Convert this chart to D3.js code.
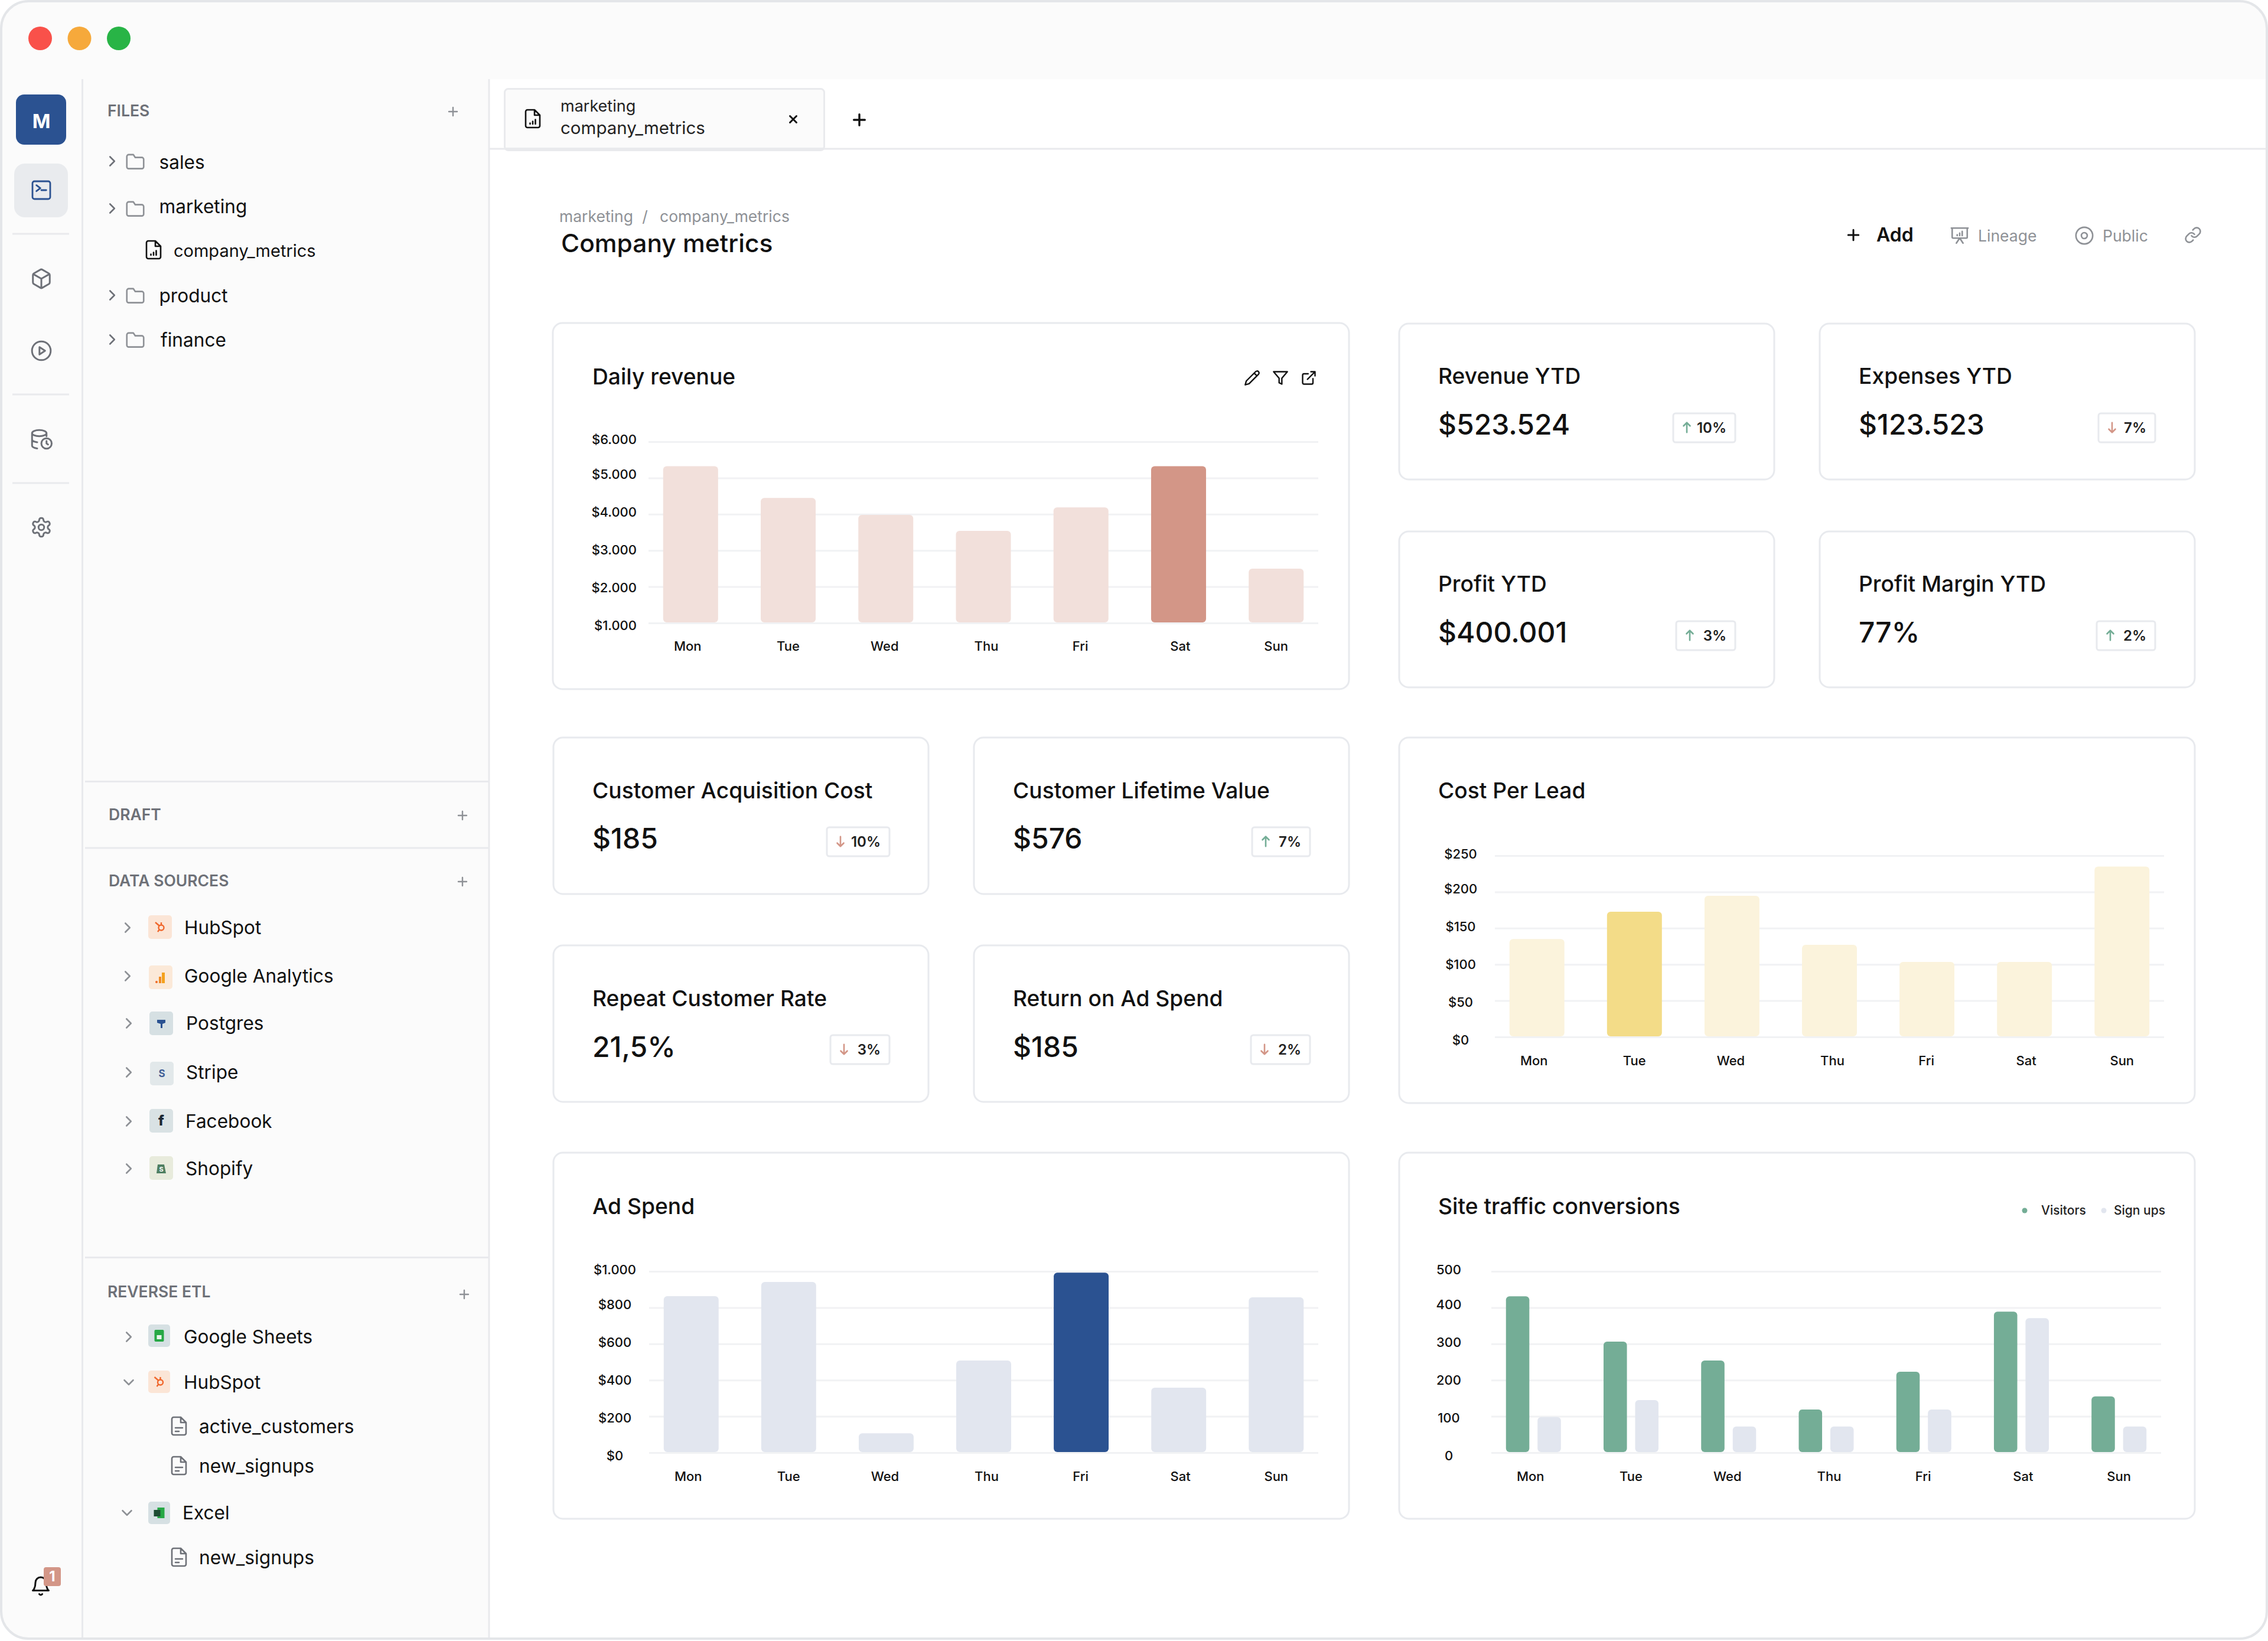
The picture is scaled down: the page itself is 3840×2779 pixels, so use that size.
<!DOCTYPE html>
<html>
<head>
<meta charset="utf-8">
<script src="https://cdn.jsdelivr.net/npm/d3@7"></script>
<style>
  html, body { margin: 0; padding: 0; background: #fff; }
  svg { display: block; }
  text { font-family: Inter, "Noto Sans", sans-serif; }
</style>
</head>
<body>
<script>
// chart data
var days = ["Mon", "Tue", "Wed", "Thu", "Fri", "Sat", "Sun"];

var dailyRevenue = [5325, 4450, 3980, 3540, 4190, 5325, 2500];
var dailyRevenueTicks = [1000, 2000, 3000, 4000, 5000, 6000];

var costPerLead = [135, 172.6, 194.6, 127, 103.4, 103.4, 235];
var costPerLeadTicks = [0, 50, 100, 150, 200, 250];

var adSpend = [863, 941, 107, 508, 993, 358, 857];
var adSpendTicks = [0, 200, 400, 600, 800, 1000];

var visitors = [431, 306, 254, 119, 223, 389, 155];
var signUps = [98, 145, 72, 72, 119, 371, 72];
var trafficTicks = [0, 100, 200, 300, 400, 500];
var trafficSeries = ["Visitors", "Sign ups"];

var statTitles = ["Revenue YTD", "Expenses YTD", "Profit YTD", "Profit Margin YTD",
  "Customer Acquisition Cost", "Customer Lifetime Value", "Repeat Customer Rate", "Return on Ad Spend"];
var statValues = ["$523.524", "$123.523", "$400.001", "77%", "$185", "$576", "21,5%", "$185"];
var statChanges = ["10%", "7%", "3%", "2%", "10%", "7%", "3%", "2%"];
var statDirections = ["up", "down", "up", "up", "down", "up", "down", "down"];

var fileNames = ["sales", "marketing", "company_metrics", "product", "finance"];
var sourceNames = ["HubSpot", "Google Analytics", "Postgres", "Stripe", "Facebook", "Shopify"];
var etlNames = ["Google Sheets", "HubSpot", "active_customers", "new_signups", "Excel", "new_signups"];

var W = 3840, H = 2779;
var dotted = d3.formatLocale({decimal: ",", thousands: ".", grouping: [3], currency: ["$", ""]});
var moneyFormat = dotted.format("$,");
// the day labels in the picture are not quite centred under their bars
var dayNudge = [-5, 0, -2, 5, -1, 3, 0];

var P = {
  chevronR: "M9 6l6 6-6 6", chevronD: "M6 9l6 6 6-6",
  folder: "M3 7a2 2 0 0 1 2-2h5l2 3h7a2 2 0 0 1 2 2v8a2 2 0 0 1-2 2H5a2 2 0 0 1-2-2z",
  fileChart: "M14 2H6a2 2 0 0 0-2 2v16a2 2 0 0 0 2 2h12a2 2 0 0 0 2-2V8z M14 2v6h6 M9 18v-1 M12 18v-3 M15 18v-5",
  fileText: "M14 2H6a2 2 0 0 0-2 2v16a2 2 0 0 0 2 2h12a2 2 0 0 0 2-2V8z M14 2v6h6 M8 14h8 M8 18h4",
  cube: "M21 8a2 2 0 0 0-1-1.73l-7-4a2 2 0 0 0-2 0l-7 4A2 2 0 0 0 3 8v8a2 2 0 0 0 1 1.73l7 4a2 2 0 0 0 2 0l7-4A2 2 0 0 0 21 16Z M3.3 7 12 12l8.7-5 M12 22V12",
  play: "M22 12a10 10 0 1 1-20 0 10 10 0 0 1 20 0z M10 8l6 4-6 4z",
  terminal: "M5 3h14a2 2 0 0 1 2 2v14a2 2 0 0 1-2 2H5a2 2 0 0 1-2-2V5a2 2 0 0 1 2-2z M7 7l4 3-4 3 M12 12h5",
  gear: "M12.22 2h-.44a2 2 0 0 0-2 2v.18a2 2 0 0 1-1 1.73l-.43.25a2 2 0 0 1-2 0l-.15-.08a2 2 0 0 0-2.73.73l-.22.38a2 2 0 0 0 .73 2.73l.15.1a2 2 0 0 1 1 1.72v.51a2 2 0 0 1-1 1.74l-.15.09a2 2 0 0 0-.73 2.73l.22.38a2 2 0 0 0 2.73.73l.15-.08a2 2 0 0 1 2 0l.43.25a2 2 0 0 1 1 1.73V20a2 2 0 0 0 2 2h.44a2 2 0 0 0 2-2v-.18a2 2 0 0 1 1-1.73l.43-.25a2 2 0 0 1 2 0l.15.08a2 2 0 0 0 2.73-.73l.22-.39a2 2 0 0 0-.73-2.73l-.15-.08a2 2 0 0 1-1-1.74v-.5a2 2 0 0 1 1-1.74l.15-.09a2 2 0 0 0 .73-2.73l-.22-.38a2 2 0 0 0-2.73-.73l-.15.08a2 2 0 0 1-2 0l-.43-.25a2 2 0 0 1-1-1.73V4a2 2 0 0 0-2-2z M15 12a3 3 0 1 1-6 0 3 3 0 0 1 6 0z",
  database: "M3 6c0-1.7 3-3 7-3s7 1.3 7 3-3 3-7 3-7-1.3-7-3z M3 6v12c0 1.3 2 2.4 5 2.8 M17 6v3 M3 12c0 1.3 2 2.4 5 2.8 M22 16a5 5 0 1 1-10 0 5 5 0 0 1 10 0z M17 13.5V16l1.5 1",
  bell: "M6 8a6 6 0 0 1 12 0c0 7 3 9 3 9H3s3-2 3-9 M10.3 21a2 2 0 0 0 3.4 0",
  pencil: "M17 3a2.85 2.83 0 1 1 4 4L7.5 20.5 2 22l1.5-5.5Z M15 5l4 4",
  filter: "M22 3H2l8 9.46V19l4 2v-8.54z",
  external: "M18 13v6a2 2 0 0 1-2 2H5a2 2 0 0 1-2-2V8a2 2 0 0 1 2-2h6 M15 3h6v6 M10 14 21 3",
  plus: "M12 5v14 M5 12h14", x: "M18 6 6 18 M6 6l12 12",
  eye: "M22 12a10 10 0 0 1-20 0 10 10 0 0 1 20 0z M15.5 12a3.5 3.5 0 1 1-7 0 3.5 3.5 0 0 1 7 0z",
  board: "M2 3h20 M21 3v11a1 1 0 0 1-1 1H4a1 1 0 0 1-1-1V3 M8 21l4-6 4 6 M9 11v1 M12 9v3 M15 7v5",
  link: "M10 13a5 5 0 0 0 7.54.54l3-3a5 5 0 0 0-7.07-7.07l-1.72 1.71 M14 11a5 5 0 0 0-7.54-.54l-3 3a5 5 0 0 0 7.07 7.07l1.71-1.71",
  up: "M12 21V3 M6 9l6-6 6 6", down: "M12 3v18 M18 15l-6 6-6-6"
};

var svg = d3.select("body").append("svg").attr("width", W).attr("height", H);
svg.append("defs").append("clipPath").attr("id", "win")
  .append("rect").attr("x", 2).attr("y", 2).attr("width", W - 4).attr("height", H - 6).attr("rx", 46);
var page = svg.append("g").attr("clip-path", "url(#win)");

function label(sel, txt, x, y, size, color, weight, anchor) {
  return sel.append("text").attr("x", x).attr("y", y).attr("dy", "0.35em")
    .attr("font-size", size).attr("font-weight", weight || 400)
    .attr("fill", color || "#111").attr("text-anchor", anchor || "start").text(txt);
}

function icon(sel, d, cx, cy, size, color, width, fill) {
  var s = size / 24;
  sel.append("path").attr("d", d)
    .attr("transform", "translate(" + (cx - size / 2) + "," + (cy - size / 2) + ") scale(" + s + ")")
    .attr("fill", fill || "none").attr("stroke", color)
    .attr("stroke-width", width / s)
    .attr("stroke-linecap", "round").attr("stroke-linejoin", "round");
}

function hline(x1, x2, y, color, w) {
  page.append("line").attr("x1", x1).attr("x2", x2).attr("y1", y).attr("y2", y)
    .attr("stroke", color || "#E9EAED").attr("stroke-width", w || 3);
}
function vline(x, y1, y2) {
  page.append("line").attr("x1", x).attr("x2", x).attr("y1", y1).attr("y2", y2)
    .attr("stroke", "#E9EAED").attr("stroke-width", 3);
}

// ---- window chrome
page.append("rect").attr("width", W).attr("height", H).attr("fill", "#FBFBFB");
page.append("rect").attr("x", 828).attr("y", 134).attr("width", W - 828).attr("height", H - 134).attr("fill", "#fff");
vline(139.5, 134, H);
vline(828, 134, H);
page.selectAll("circle.light").data(["#F9514A", "#F6A93B", "#28B446"]).enter().append("circle")
  .attr("cx", function (d, i) { return 68 + i * 66.5; }).attr("cy", 65).attr("r", 20)
  .attr("fill", function (d) { return d; });

// ---- icon rail
page.append("rect").attr("x", 27).attr("y", 160).attr("width", 85).attr("height", 85).attr("rx", 14).attr("fill", "#2B5291");
label(page, "M", 70, 205, 33, "#fff", 700, "middle");
page.append("rect").attr("x", 24).attr("y", 277).attr("width", 91).attr("height", 91).attr("rx", 18).attr("fill", "#E9EBEE");
icon(page, P.terminal, 70, 322, 40, "#2B5291", 2.8);
hline(21, 117, 396);
icon(page, P.cube, 70, 472, 38, "#6E7178", 3);
icon(page, P.play, 70, 594, 38, "#6E7178", 3);
hline(21, 117, 668);
icon(page, P.database, 70, 744, 42, "#6E7178", 3);
hline(21, 117, 818);
icon(page, P.gear, 70, 893, 38, "#6E7178", 3);
icon(page, P.bell, 69, 2686, 36, "#111", 3);
page.append("rect").attr("x", 74).attr("y", 2654).attr("width", 29).attr("height", 32).attr("rx", 4).attr("fill", "#D39687");
label(page, "1", 88.5, 2670, 24, "#fff", 700, "middle");

// ---- side panel
function sectionHead(txt, x, y, plusX, plusY) {
  label(page, txt, x, y, 26.5, "#6E7178", 600);
  icon(page, P.plus, plusX, plusY, 24, "#8E9196", 2.4);
}
sectionHead("FILES", 182, 188, 767, 189);
sectionHead("DRAFT", 184, 1380, 783, 1381);
sectionHead("DATA SOURCES", 184, 1492, 783, 1493);
sectionHead("REVERSE ETL", 182, 2188, 786, 2192);
hline(144, 828, 1323.5);
hline(144, 828, 1436);
hline(144, 828, 2129.5);

var fileRows = [
  {chev: 273, text: 275, x: 269.5}, {chev: 353, text: 350, x: 269.5},
  null, {chev: 500, text: 501, x: 269.5}, {chev: 575, text: 576, x: 272}
];
fileNames.forEach(function (name, i) {
  var r = fileRows[i];
  if (!r) {
    icon(page, P.fileChart, 260, 423, 36, "#111", 2.6);
    label(page, name, 294, 425, 29);
    return;
  }
  icon(page, P.chevronR, 190, r.chev, 30, "#6E7178", 2.6);
  icon(page, P.folder, 229, r.chev, 38, "#8E9196", 2.6);
  label(page, name, r.x, r.text, 31.6);
});

// little vendor logos, roughly drawn
function logo(kind, x, y, w, h, bg) {
  page.append("rect").attr("x", x).attr("y", y).attr("width", w).attr("height", h).attr("rx", 5).attr("fill", bg);
  var cx = x + w / 2, cy = y + h / 2;
  if (kind === "hubspot") {
    page.append("circle").attr("cx", cx + 2).attr("cy", cy + 1).attr("r", 4.5).attr("fill", "none").attr("stroke", "#F0672C").attr("stroke-width", 2.4);
    page.append("path").attr("d", "M" + (cx - 8) + " " + (cy - 8) + "L" + (cx - 1) + " " + (cy - 2) + "M" + (cx + 2) + " " + (cy - 8) + "V" + (cy - 3) + "M" + (cx - 1) + " " + (cy + 4) + "L" + (cx - 4) + " " + (cy + 8))
      .attr("stroke", "#F0672C").attr("stroke-width", 2.4).attr("fill", "none");
  } else if (kind === "ga") {
    page.append("rect").attr("x", cx + 2).attr("y", cy - 8).attr("width", 5).attr("height", 18).attr("fill", "#F4A11C");
    page.append("rect").attr("x", cx - 3).attr("y", cy - 1).attr("width", 4).attr("height", 11).attr("fill", "#F08A24");
    page.append("circle").attr("cx", cx - 7).attr("cy", cy + 8).attr("r", 2).attr("fill", "#EE6A24");
  } else if (kind === "pg") {
    page.append("path").attr("d", "M" + (cx - 7) + " " + (cy - 6) + "h14v5l-5 2v7h-3v-7l-6-2z").attr("fill", "#2B5291");
  } else if (kind === "stripe") {
    label(page, "S", cx, cy, 17, "#3F5E96", 700, "middle");
  } else if (kind === "fb") {
    label(page, "f", cx, cy, 24, "#1B2733", 800, "middle");
  } else if (kind === "shopify") {
    page.append("path").attr("d", "M" + (cx - 6) + " " + (cy - 6) + "h11l3 15h-16z").attr("fill", "#4F7F62");
    label(page, "S", cx, cy + 2, 11, "#fff", 700, "middle");
  } else if (kind === "sheets") {
    page.append("rect").attr("x", cx - 8).attr("y", cy - 10).attr("width", 16).attr("height", 20).attr("rx", 2).attr("fill", "#27A845");
    page.append("rect").attr("x", cx - 4).attr("y", cy - 1).attr("width", 8).attr("height", 7).attr("fill", "#E9F5EC");
  } else if (kind === "excel") {
    page.append("rect").attr("x", cx - 3).attr("y", cy - 9).attr("width", 12).attr("height", 18).attr("fill", "#27A845");
    page.append("rect").attr("x", cx - 9).attr("y", cy - 5).attr("width", 11).attr("height", 11).attr("fill", "#1E4C33");
  }
}

var sourceLogos = ["hubspot", "ga", "pg", "stripe", "fb", "shopify"];
var sourceFills = ["#FBE5D6", "#FBE9D8", "#D6E0E3", "#E2E8EA", "#D9E2E4", "#E8EBDC"];
var sourceRows = [
  {chevX: 216, y: 1571, iconX: 251, iconY: 1550, textX: 312}, {chevX: 216, y: 1653, iconX: 252, iconY: 1635, textX: 312},
  {chevX: 218, y: 1733, iconX: 253, iconY: 1713, textX: 315}, {chevX: 218, y: 1816, iconX: 254, iconY: 1798, textX: 315},
  {chevX: 218, y: 1899, iconX: 253, iconY: 1878, textX: 314}, {chevX: 218, y: 1979, iconX: 253, iconY: 1958, textX: 314}
];
sourceNames.forEach(function (name, i) {
  var r = sourceRows[i];
  icon(page, P.chevronR, r.chevX, r.y, 30, "#8E9196", 2.6);
  logo(sourceLogos[i], r.iconX, r.iconY, 40, 40, sourceFills[i]);
  label(page, name, r.textX, r.y, 31.6);
});

var etlRows = [
  {kind: "sheets", fill: "#D6E0E3", chev: P.chevronR, chevX: 218, y: 2264, iconY: 2243, textX: 311},
  {kind: "hubspot", fill: "#FBE5D6", chev: P.chevronD, chevX: 218, y: 2341, iconY: 2321, textX: 311},
  {file: true, y: 2416}, {file: true, y: 2483},
  {kind: "excel", fill: "#D6E0E3", chev: P.chevronD, chevX: 215, y: 2562, iconY: 2543, textX: 309},
  {file: true, y: 2638}
];
etlNames.forEach(function (name, i) {
  var r = etlRows[i];
  if (r.file) {
    icon(page, P.fileText, 303, r.y - 1, 36, "#6E7178", 2.6);
    label(page, name, 337, r.y, 31.8);
    return;
  }
  icon(page, r.chev, r.chevX, r.y, 30, "#8E9196", 2.6);
  logo(r.kind, 251, r.iconY, 37, 38, r.fill);
  label(page, name, r.textX, r.y, 31.6);
});

// ---- tab strip and page header
hline(828, W, 252);
page.append("rect").attr("x", 854.5).attr("y", 150.5).attr("width", 541).attr("height", 104).attr("rx", 6)
  .attr("fill", "#FBFBFB").attr("stroke", "#E9EAED").attr("stroke-width", 3);
page.append("rect").attr("x", 856).attr("y", 250).attr("width", 538).attr("height", 4).attr("fill", "#E9EAED");
icon(page, P.fileChart, 902, 201, 36, "#111", 2.6);
label(page, "marketing", 949, 180, 27, "#222");
label(page, "company_metrics", 949, 217, 29.5, "#222");
icon(page, P.x, 1343, 202, 22, "#111", 3);
icon(page, P.plus, 1455, 203, 32, "#111", 3.4);

label(page, "marketing", 947, 367, 26.5, "#8E9196");
label(page, "/", 1092, 367, 26.5, "#8E9196", 400, "middle");
label(page, "company_metrics", 1117, 367, 26.5, "#8E9196");
label(page, "Company metrics", 950, 412, 42.5, "#111", 500);

icon(page, P.plus, 3138, 398, 30, "#111", 3);
label(page, "Add", 3177, 398, 32, "#111", 600);
icon(page, P.board, 3318, 399, 34, "#8E9196", 2.6);
label(page, "Lineage", 3349, 400, 26.5, "#8E9196");
icon(page, P.eye, 3529, 399, 34, "#8E9196", 2.6);
label(page, "Public", 3560, 400, 26.5, "#8E9196");
icon(page, P.link, 3713, 398, 30, "#8E9196", 2.6);

// ---- cards
function card(x, y, w, h) {
  page.append("rect").attr("x", x).attr("y", y).attr("width", w).attr("height", h).attr("rx", 16)
    .attr("fill", "#fff").attr("stroke", "#E8EAEE").attr("stroke-width", 3);
}

function statCard(i, x, y, w, h, titleY, valueY, badgeX, badgeW, badgeY) {
  card(x, y, w, h);
  label(page, statTitles[i], x + 66, titleY, 37.2, "#111", 500);
  label(page, statValues[i], x + 66, valueY, 48, "#111", 500);
  page.append("rect").attr("x", badgeX).attr("y", badgeY).attr("width", badgeW).attr("height", 49).attr("rx", 4)
    .attr("fill", "#fff").attr("stroke", "#E8EAEE").attr("stroke-width", 3);
  var up = statDirections[i] === "up";
  icon(page, up ? P.up : P.down, badgeX + 23, badgeY + 24, 22, up ? "#74AD96" : "#D39687", 2.6);
  label(page, statChanges[i], badgeX + badgeW - 15, badgeY + 25, 24, "#222", 600, "end");
}

statCard(0, 2369, 548, 635, 264, 637, 719, 2833, 105, 700);
statCard(1, 3081, 548, 635, 264, 637, 719, 3553, 96, 700);
statCard(2, 2369, 900, 635, 264, 989, 1071, 2838, 100, 1052);
statCard(3, 3081, 900, 635, 264, 989, 1071, 3550, 99, 1052);
statCard(4, 937, 1249, 635, 265, 1339, 1420, 1400, 106, 1401);
statCard(5, 1649, 1249, 635, 265, 1339, 1420, 2120, 98, 1401);
statCard(6, 937, 1601, 635, 265, 1691, 1773, 1406, 100, 1753);
statCard(7, 1649, 1601, 635, 265, 1691, 1773, 2118, 100, 1753);

// gridlines, y labels and day labels; the picture's labels do not line up exactly with the gridlines
function chartFrame(c) {
  var g = page.append("g");
  var y = d3.scaleLinear().domain(d3.extent(c.ticks)).range(c.gridY);
  var yLabel = d3.scaleLinear().domain(c.ticks).range(c.labelY);
  var x = d3.scaleBand().domain(days).range(c.gridX).paddingInner(0.437).paddingOuter(0.15);

  var grid = g.append("g").attr("transform", "translate(" + c.gridX[0] + ",0)")
    .call(d3.axisLeft(y).tickValues(c.ticks).tickSize(-(c.gridX[1] - c.gridX[0])).tickFormat(""));
  grid.select(".domain").remove();
  grid.selectAll("line").attr("stroke", "#F1F2F4").attr("stroke-width", 3);

  var yAxis = g.append("g").attr("transform", "translate(" + c.labelX + ",0)")
    .call(d3.axisLeft(yLabel).tickValues(c.ticks).tickSize(0).tickPadding(0).tickFormat(c.format));
  yAxis.select(".domain").remove();
  yAxis.selectAll("text").attr("text-anchor", c.labelAnchor).attr("font-family", "Inter")
    .attr("font-size", 22).attr("font-weight", 500).attr("fill", "#111");

  var xAxis = g.append("g").attr("transform", "translate(0," + c.dayY + ")")
    .call(d3.axisBottom(x).tickSize(0).tickPadding(0));
  xAxis.select(".domain").remove();
  xAxis.selectAll("text").attr("y", 0).attr("dy", "0.35em").attr("font-family", "Inter")
    .attr("x", function (d, i) { return dayNudge[i]; })
    .attr("font-size", 22).attr("font-weight", 500).attr("fill", "#111");
  return {g: g, x: x, y: y};
}

function singleBars(c, values, color, hiColor, hiDay) {
  var f = chartFrame(c);
  f.g.selectAll("rect.bar").data(values).enter().append("rect").attr("class", "bar")
    .attr("x", function (d, i) { return f.x(days[i]); })
    .attr("width", f.x.bandwidth())
    .attr("y", function (d) { return f.y(d); })
    .attr("height", function (d) { return c.gridY[0] - f.y(d) - 1; })
    .attr("rx", 6)
    .attr("fill", function (d, i) { return days[i] === hiDay ? hiColor : color; });
}

// Daily revenue
card(936, 547, 1348, 620);
label(page, "Daily revenue", 1003, 638, 37.2, "#111", 500);
icon(page, P.pencil, 2120, 640, 28, "#111", 2.4);
icon(page, P.filter, 2168, 640, 28, "#111", 2.4);
icon(page, P.external, 2216, 640, 28, "#111", 2.4);
singleBars({ticks: dailyRevenueTicks, gridY: [1055, 748], labelY: [1059, 995, 931, 867, 803, 744], gridX: [1098, 2232],
  labelX: 1078, labelAnchor: "end", dayY: 1094, format: moneyFormat},
  dailyRevenue, "#F2E0DB", "#D39687", "Sat");

// Cost per lead
card(2369, 1249, 1347, 619);
label(page, "Cost Per Lead", 2435, 1339, 37.2, "#111", 500);
singleBars({ticks: costPerLeadTicks, gridY: [1756, 1449], labelY: [1761, 1697, 1633, 1569, 1505, 1446], gridX: [2531, 3664],
  labelX: 2473, labelAnchor: "middle", dayY: 1796, format: moneyFormat},
  costPerLead, "#FBF3DC", "#F3DC88", "Tue");

// Ad spend
card(937, 1952, 1347, 620);
label(page, "Ad Spend", 1003, 2043, 37.2, "#111", 500);
singleBars({ticks: adSpendTicks, gridY: [2460, 2153], labelY: [2465, 2401, 2337, 2273, 2209, 2150], gridX: [1099, 2232],
  labelX: 1041, labelAnchor: "middle", dayY: 2500, format: moneyFormat},
  adSpend, "#E2E6EF", "#2B5291", "Fri");

// Site traffic conversions
card(2369, 1952, 1347, 620);
label(page, "Site traffic conversions", 2435, 2043, 37.2, "#111", 500);
var trafficColors = d3.scaleOrdinal().domain(trafficSeries).range(["#74AD96", "#E2E6EF"]);
[{x: 3428, tx: 3456}, {x: 3562, tx: 3579}].forEach(function (pos, i) {
  page.append("circle").attr("cx", pos.x).attr("cy", 2050).attr("r", 4.5).attr("fill", trafficColors(trafficSeries[i]));
  label(page, trafficSeries[i], pos.tx, 2050, 21, "#222", 500);
});
var tf = chartFrame({ticks: trafficTicks, gridY: [2460, 2153], labelY: [2465, 2401, 2337, 2273, 2209, 2150], gridX: [2525, 3659],
  labelX: 2453, labelAnchor: "middle", dayY: 2500, format: d3.format("d")});
var inner = d3.scaleBand().domain(trafficSeries).range([0, tf.x.bandwidth()]).paddingInner(0.26);
[visitors, signUps].forEach(function (series, s) {
  tf.g.selectAll("rect.s" + s).data(series).enter().append("rect").attr("class", "s" + s)
    .attr("x", function (d, i) { return tf.x(days[i]) + inner(trafficSeries[s]); })
    .attr("width", inner.bandwidth())
    .attr("y", function (d) { return tf.y(d); })
    .attr("height", function (d) { return 2460 - tf.y(d) - 1; })
    .attr("rx", 6)
    .attr("fill", trafficColors(trafficSeries[s]));
});

// window outline on top
svg.append("rect").attr("x", 2).attr("y", 2).attr("width", W - 4).attr("height", H - 6).attr("rx", 46)
  .attr("fill", "none").attr("stroke", "#E4E6E9").attr("stroke-width", 4);
</script>
</body>
</html>
